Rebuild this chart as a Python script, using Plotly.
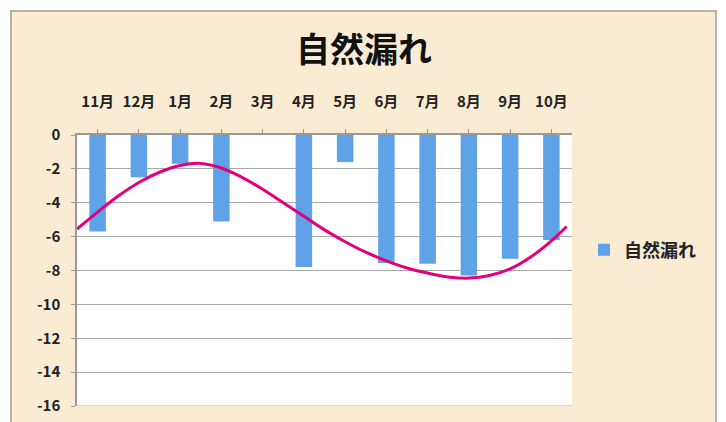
import plotly.graph_objects as go

months = ["11月", "12月", "1月", "2月", "3月", "4月", "5月", "6月", "7月", "8月", "9月", "10月"]
leak = [-5.7, -2.5, -1.7, -5.1, None, -7.8, -1.6, -7.55, -7.6, -8.3, -7.3, -6.2]

# trendline (category position, value)
trend_x = [0.5, 1.0, 1.5, 2.0, 2.5, 3.0, 3.5, 4.0, 4.5, 5.0, 5.5, 6.0, 6.5, 7.0,
           7.5, 8.0, 8.5, 9.0, 9.5, 10.0, 10.5, 11.0, 11.5, 12.0, 12.37]
trend_y = [-5.55, -4.55, -3.6, -2.8, -2.2, -1.8, -1.68, -1.95, -2.5, -3.2, -4.0, -4.8, -5.6, -6.3,
           -6.92, -7.43, -7.85, -8.15, -8.38, -8.45, -8.3, -7.9, -7.2, -6.25, -5.4]

series_name = "自然漏れ"
yticks = list(range(0, -17, -2))

W, H = 726, 422
L, R, T, B = 77, 572, 135, 406
def px(x):
    return (x - L) / (R - L)
def py(y):
    return (B - y) / (B - T)

FONT = "Noto Sans CJK JP"
pos = list(range(1, len(months) + 1))

fig = go.Figure()
fig.add_trace(go.Bar(
    x=pos, y=leak, name=series_name, width=0.4,
    marker=dict(color="#5fa2e8", line=dict(width=0)),
))
fig.add_trace(go.Scatter(
    x=trend_x, y=trend_y, mode="lines", showlegend=False,
    line=dict(color="#e2007c", width=3, shape="spline", smoothing=1.0),
    hoverinfo="skip",
))

fig.update_layout(
    template="none",
    width=W, height=H,
    margin=dict(l=L, r=W - R, t=T, b=H - B, autoexpand=False),
    paper_bgcolor="white",
    plot_bgcolor="rgba(0,0,0,0)",
    title=dict(text="<b>" + series_name + "</b>", x=364 / W, xref="container", xanchor="center",
               y=1 - 50 / H, yref="container", yanchor="middle",
               font=dict(family=FONT, size=34, color="#111")),
    showlegend=True,
    legend=dict(x=px(584), y=py(250), xanchor="left", yanchor="middle",
                bgcolor="rgba(0,0,0,0)", borderwidth=0,
                font=dict(family=FONT, size=18, color="#222", weight="bold")),
    xaxis=dict(
        automargin=False,
        range=[0.5, 12.5], side="top", tickmode="array", tickvals=pos, ticktext=months,
        tickson="boundaries", ticks="outside", ticklen=4, tickcolor="#999",
        showline=True, linecolor="#999", linewidth=1.5, showgrid=False, zeroline=False,
        ticklabelstandoff=16,
        tickfont=dict(family=FONT, size=15, color="#222", weight="bold"),
    ),
    yaxis=dict(
        automargin=False,
        range=[-16, 0], tickmode="array", tickvals=yticks, ticktext=[str(v) for v in yticks],
        ticks="outside", ticklen=4, tickcolor="#999",
        showline=True, linecolor="#999", linewidth=1.5,
        showgrid=True, gridcolor="#a8a8a8", gridwidth=1.2, zeroline=False,
        ticklabelstandoff=8,
        tickfont=dict(family=FONT, size=15, color="#222", weight="bold"),
    ),
    bargap=0.6,
    shapes=[
        dict(type="rect", xref="paper", yref="paper", x0=px(11), x1=px(716), y0=py(440), y1=py(11),
             fillcolor="#f9ecd3", line=dict(color="#b9b2aa", width=2), layer="below"),
        dict(type="rect", xref="paper", yref="paper", x0=0, x1=1, y0=0, y1=1,
             fillcolor="white", line=dict(width=0), layer="below"),
        dict(type="line", xref="paper", yref="y", x0=0, x1=1, y0=-16, y1=-16,
             line=dict(color="#a8a8a8", width=1.2), layer="below"),
    ],
)

fig.write_html("out.html")
